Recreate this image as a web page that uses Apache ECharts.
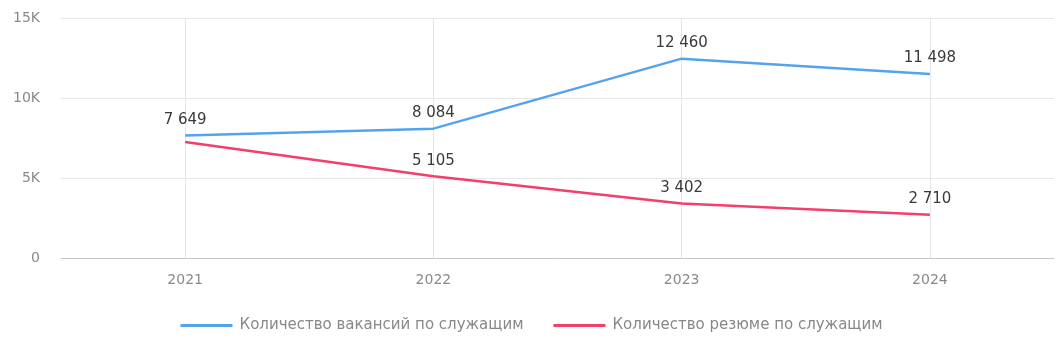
<!DOCTYPE html>
<html>
<head>
<meta charset="utf-8">
<script src="https://cdn.jsdelivr.net/npm/echarts@6/dist/echarts.min.js"></script>
<style>
  html, body { margin: 0; padding: 0; background: #fff; }
  #chart { width: 1063px; height: 347px; }
</style>
</head>
<body>
<div id="chart"></div>
<script>
// данные
var years = ['2021', '2022', '2023', '2024'];
var vacancies = [7649, 8084, 12460, 11498];
var resumes = [7250, 5105, 3402, 2710];
var yTicks = ['0', '5K', '10K', '15K'];

var seriesNames = ['Количество вакансий по служащим', 'Количество резюме по служащим'];
var colors = ['#55a3ee', '#f23f6c'];
var font = '"DejaVu Sans", sans-serif';

function fmt(v){
  return String(v).replace(/\B(?=(\d{3})+(?!\d))/g, ' ');
}

var chart = echarts.init(document.getElementById('chart'));

function lineSeries(name, data, color){
  return {
    name: name,
    type: 'line',
    data: data,
    symbol: 'circle',
    symbolSize: 0,
    lineStyle: { width: 2.5, color: color },
    itemStyle: { color: color },
    label: {
      show: true,
      position: 'top',
      distance: 8,
      fontFamily: font,
      fontSize: 15,
      color: '#3a3a3a',
      formatter: function(p){ return fmt(p.value); }
    },
    labelLayout: { hideOverlap: true },
    emphasis: { disabled: true }
  };
}

chart.setOption({
  animation: false,
  color: colors,
  grid: { left: 61, right: 9, top: 18, bottom: 89, containLabel: false },
  legend: {
    bottom: 9,
    left: 'center',
    icon: 'rect',
    itemWidth: 52,
    itemHeight: 3,
    itemGap: 30,
    textStyle: { fontFamily: font, fontSize: 15, color: '#888', padding: [0, 0, 0, 2] },
    data: seriesNames
  },
  xAxis: {
    type: 'category',
    data: years,
    boundaryGap: true,
    axisLine: { lineStyle: { color: '#c8c8c8' } },
    axisTick: { show: false, alignWithLabel: true },
    splitLine: { show: true, alignWithLabel: true, lineStyle: { color: '#e6e6e6' } },
    axisLabel: { margin: 15, fontFamily: font, fontSize: 14, color: '#8a8a8a' }
  },
  yAxis: {
    type: 'value',
    min: 0,
    max: 15000,
    interval: 5000,
    axisLine: { show: false },
    axisTick: { show: false },
    splitLine: { lineStyle: { color: '#e6e6e6' } },
    axisLabel: {
      margin: 21,
      fontFamily: font,
      fontSize: 14,
      color: '#8a8a8a',
      formatter: function(v){ return yTicks[v / 5000]; }
    }
  },
  series: [
    lineSeries(seriesNames[0], vacancies, colors[0]),
    lineSeries(seriesNames[1], resumes, colors[1])
  ]
});
</script>
</body>
</html>
